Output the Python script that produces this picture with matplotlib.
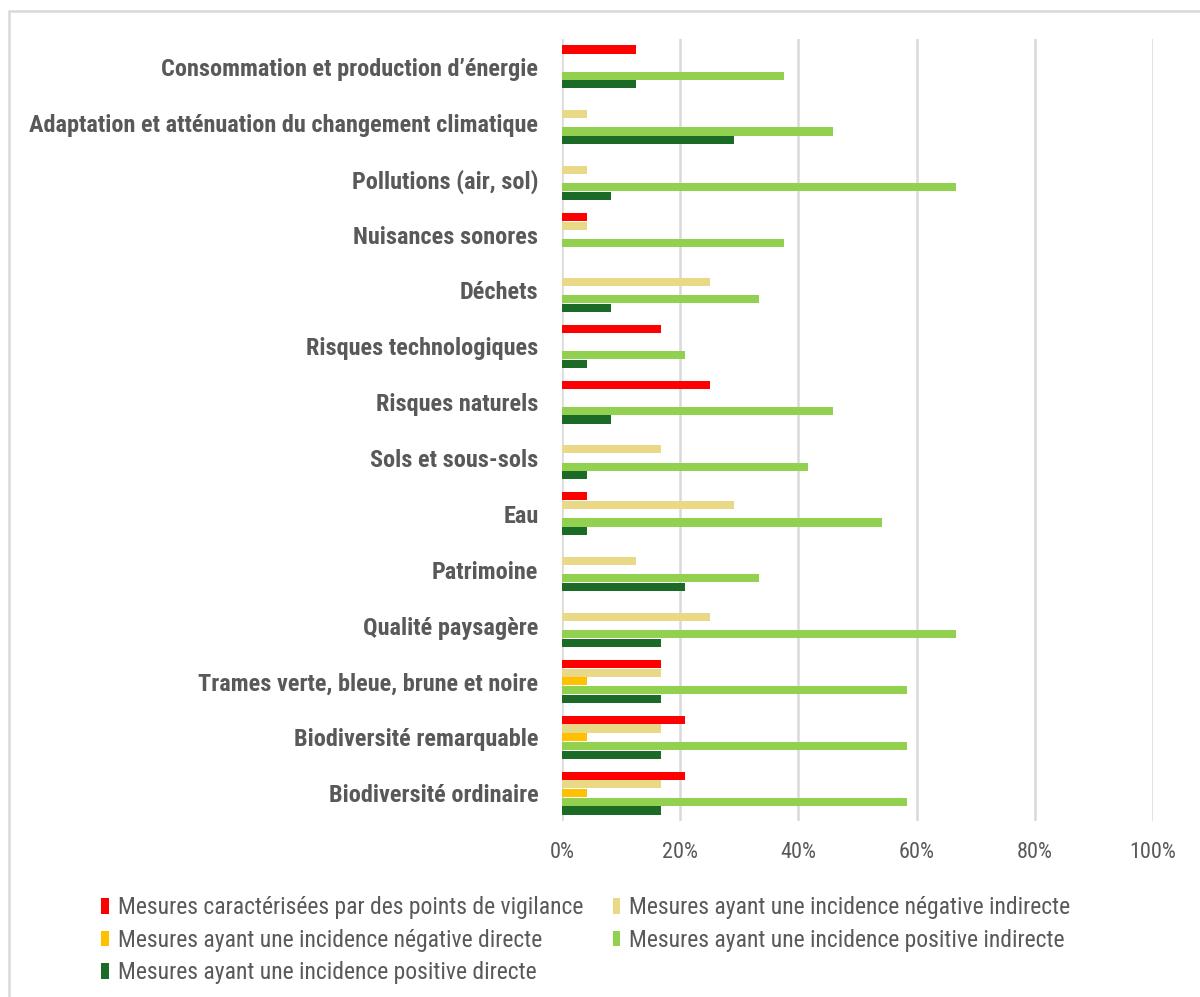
import numpy as np
import matplotlib.pyplot as plt
from matplotlib import font_manager
from matplotlib.patches import Rectangle, Patch
from matplotlib.ticker import PercentFormatter

# -----------------------------------------------------------------------
# Data (share of measures, %)
# -----------------------------------------------------------------------
categories = [
    "Consommation et production d\u2019énergie",
    "Adaptation et atténuation du changement climatique",
    "Pollutions (air, sol)",
    "Nuisances sonores",
    "Déchets",
    "Risques technologiques",
    "Risques naturels",
    "Sols et sous-sols",
    "Eau",
    "Patrimoine",
    "Qualité paysagère",
    "Trames verte, bleue, brune et noire",
    "Biodiversité remarquable",
    "Biodiversité ordinaire",
]

vigilance    = [12.5, 0, 0, 4.17, 0, 16.67, 25.0, 0, 4.17, 0, 0, 16.67, 20.83, 20.83]
neg_indirect = [0, 4.17, 4.17, 4.17, 25.0, 0, 0, 16.67, 29.17, 12.5, 25.0, 16.67, 16.67, 16.67]
neg_direct   = [0, 0, 0, 0, 0, 0, 0, 0, 0, 0, 0, 4.17, 4.17, 4.17]
pos_indirect = [37.5, 45.83, 66.67, 37.5, 33.33, 20.83, 45.83, 41.67, 54.17, 33.33, 66.67, 58.33, 58.33, 58.33]
pos_direct   = [12.5, 29.17, 8.33, 0, 8.33, 4.17, 8.33, 4.17, 4.17, 20.83, 16.67, 16.67, 16.67, 16.67]

series_labels = [
    "Mesures caractérisées par des points de vigilance",
    "Mesures ayant une incidence négative indirecte",
    "Mesures ayant une incidence négative directe",
    "Mesures ayant une incidence positive indirecte",
    "Mesures ayant une incidence positive directe",
]
series = [vigilance, neg_indirect, neg_direct, pos_indirect, pos_direct]
colors = ["#FF0000", "#E9D886", "#FFC000", "#92D050", "#1B6B27"]

# -----------------------------------------------------------------------
# Font: pick a condensed family if one is installed
# -----------------------------------------------------------------------
installed = {f.name for f in font_manager.fontManager.ttflist}
wanted = ['Roboto Condensed', 'Arial Narrow', 'Liberation Sans Narrow',
          'Archivo Narrow', 'PT Sans Narrow', 'Fira Sans Condensed',
          'IBM Plex Sans Condensed', 'Encode Sans Condensed', 'Liberation Sans']
family = next(f for f in wanted if f in installed)
plt.rcParams['font.family'] = [family, 'DejaVu Sans']
text_col = '#595959'
grid_col = '#D9D9D9'

# -----------------------------------------------------------------------
# Plot
# -----------------------------------------------------------------------
fig = plt.figure(figsize=(12, 9.97), dpi=100)
ax = fig.add_axes([562 / 1200, 1 - 821 / 997, (1153 - 562) / 1200, (821 - 39) / 997])

y = np.arange(len(categories))
slot = 0.156
for k, (vals, col) in enumerate(zip(series, colors)):
    ax.barh(y + (k - 2) * slot, np.array(vals) / 100, height=slot * 0.95,
            color=col, linewidth=0, zorder=3)

ax.set_xlim(0, 1)
ax.set_ylim(len(categories) - 0.5, -0.5)
ax.set_xticks(np.arange(0, 1.01, 0.2))
ax.xaxis.set_major_formatter(PercentFormatter(1.0, decimals=0))
ax.set_yticks(y)
ax.set_yticklabels(categories, fontsize=17.5, fontweight='bold', color=text_col)
ax.tick_params(axis='x', length=0, labelsize=16, labelcolor=text_col, pad=15)
ax.tick_params(axis='y', length=0, pad=17)
ax.grid(axis='x', color=grid_col, lw=1.8, zorder=0)
for s in ax.spines.values():
    s.set_visible(False)

# outer chart border
fig.patches.append(Rectangle((9 / 1200, -0.1), 1.2, 1 - 11 / 997 + 0.1,
                             transform=fig.transFigure, fill=False,
                             edgecolor=grid_col, lw=1.8))

handles = [Patch(facecolor=c, edgecolor='none') for c in colors]
order = [0, 2, 4, 1, 3]
fig.legend([handles[i] for i in order], [series_labels[i] for i in order],
           loc='upper left', bbox_to_anchor=(92 / 1200, 1 - 887 / 997),
           ncol=2, frameon=False, fontsize=17, labelcolor=text_col,
           handlelength=0.3, handleheight=0.65, handletextpad=0.4,
           columnspacing=1.25, labelspacing=0.4, borderaxespad=0)

fig.savefig('out.png', dpi=100)
